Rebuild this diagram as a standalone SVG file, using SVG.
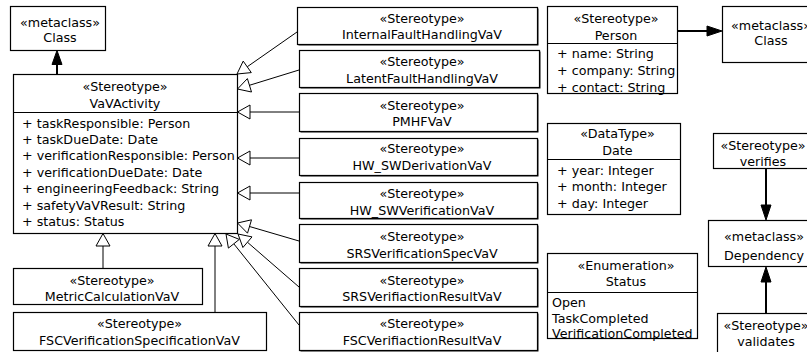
<svg xmlns="http://www.w3.org/2000/svg" width="807" height="352" viewBox="0 0 807 352">
  <style>
    text { font-family: "DejaVu Sans", "Noto Sans", sans-serif; font-size: 12.7px; fill: #000; }
    .c { text-anchor: middle; }
    .box { fill: #fff; stroke: #000; stroke-width: 1.2; }
    .sh { fill: #222; }
    .sep { stroke: #000; stroke-width: 1.2; }
    .gen { stroke: #000; stroke-width: 1; fill: none; }
    .head { fill: #fff; stroke: #000; stroke-width: 1; }
    .ext { stroke: #000; stroke-width: 2; fill: none; }
    .fhead { fill: #000; stroke: #000; stroke-width: 1; }
  </style>

  <!-- connectors -->
  <g id="connectors">
    <!-- generalizations into VaVActivity -->
    <line class="gen" x1="297" y1="32" x2="247.2" y2="66.8"/>
    <polygon class="head" points="237,74 251.3,72.6 243.2,61.1"/>
    <line class="gen" x1="299" y1="70" x2="249.4" y2="85.3"/>
    <polygon class="head" points="237.5,89 251.5,92 247.4,78.6"/>
    <line class="gen" x1="299" y1="112" x2="250" y2="112"/>
    <polygon class="head" points="237.5,112 250,105 250,119"/>
    <line class="gen" x1="299" y1="158" x2="250" y2="158"/>
    <polygon class="head" points="237.5,158 250,151 250,165"/>
    <line class="gen" x1="299" y1="193" x2="250" y2="193"/>
    <polygon class="head" points="237.5,193 250,186 250,200"/>
    <line class="gen" x1="299" y1="241" x2="249.5" y2="226.5"/>
    <polygon class="head" points="237.5,223 247.5,233.2 251.5,219.8"/>
    <line class="gen" x1="299" y1="287" x2="247.4" y2="242.2"/>
    <polygon class="head" points="238,234 242.9,247.5 252,236.9"/>
    <line class="gen" x1="299" y1="325" x2="233.8" y2="243.8"/>
    <polygon class="head" points="226,234 228.4,248.1 239.3,239.4"/>
    <line class="gen" x1="215" y1="312" x2="215" y2="246"/>
    <polygon class="head" points="215,233.5 208,246 222,246"/>
    <line class="gen" x1="103" y1="268" x2="103" y2="246"/>
    <polygon class="head" points="103,233.5 96,246 110,246"/>

    <!-- extensions (filled heads) -->
    <line class="ext" x1="57" y1="74" x2="57" y2="63"/>
    <polygon class="fhead" points="57,50.5 52,64.5 62,64.5"/>
    <line class="ext" x1="677" y1="31" x2="708" y2="31"/>
    <polygon class="fhead" points="722,31 707,26 707,36"/>
    <line class="ext" x1="766" y1="168" x2="766" y2="206"/>
    <polygon class="fhead" points="766,220 761,205 771,205"/>
    <line class="ext" x1="766" y1="313" x2="766" y2="281"/>
    <polygon class="fhead" points="766,267 761,282 771,282"/>
  </g>

  <!-- metaclass Class (left) -->
  <g id="metaclass-class-left">
    <rect class="box" x="10.5" y="6.5" width="95" height="44"/>
    <text class="c" x="60" y="26.5">«metaclass»</text>
    <text class="c" x="60" y="42">Class</text>
  </g>

  <!-- VaVActivity -->
  <g id="vav-activity">
    <rect class="box" x="13.5" y="74.5" width="224" height="159"/>
    <line class="sep" x1="13.5" y1="112.5" x2="237.5" y2="112.5"/>
    <text class="c" x="125" y="91">«Stereotype»</text>
    <text class="c" x="125" y="107.5">VaVActivity</text>
    <text x="22" y="127.5">+ taskResponsible: Person</text>
    <text x="22" y="143.9">+ taskDueDate: Date</text>
    <text x="22" y="160.3">+ verificationResponsible: Person</text>
    <text x="22" y="176.7">+ verificationDueDate: Date</text>
    <text x="22" y="193.1">+ engineeringFeedback: String</text>
    <text x="22" y="209.5">+ safetyVaVResult: String</text>
    <text x="22" y="225.9">+ status: Status</text>
  </g>

  <!-- MetricCalculationVaV -->
  <g id="metric-calculation">
    <rect class="box" x="13.5" y="268.5" width="189" height="36"/>
    <text class="c" x="112" y="284.5">«Stereotype»</text>
    <text class="c" x="112" y="301">MetricCalculationVaV</text>
  </g>

  <!-- FSCVerificationSpecificationVaV -->
  <g id="fsc-verification-spec">
    <rect class="box" x="13.5" y="312.5" width="253" height="38"/>
    <text class="c" x="139.5" y="328">«Stereotype»</text>
    <text class="c" x="139.5" y="344.5">FSCVerificationSpecificationVaV</text>
  </g>

  <!-- specialized stereotypes column -->
  <g id="internal-fault">
    <rect class="sh" x="298.5" y="8.5" width="240" height="37"/>
    <rect class="box" x="297.5" y="7.5" width="240" height="37"/>
    <text class="c" x="422" y="22.5">«Stereotype»</text>
    <text class="c" x="422" y="39">InternalFaultHandlingVaV</text>
  </g>
  <g id="latent-fault">
    <rect class="sh" x="300.5" y="51.5" width="240" height="37"/>
    <rect class="box" x="299.5" y="50.5" width="240" height="37"/>
    <text class="c" x="422" y="66">«Stereotype»</text>
    <text class="c" x="422" y="83">LatentFaultHandlingVaV</text>
  </g>
  <g id="pmhf">
    <rect class="sh" x="300.5" y="94.5" width="238" height="38"/>
    <rect class="box" x="299.5" y="93.5" width="238" height="38"/>
    <text class="c" x="422" y="110">«Stereotype»</text>
    <text class="c" x="422" y="126">PMHFVaV</text>
  </g>
  <g id="hw-sw-derivation">
    <rect class="sh" x="300.5" y="139.5" width="238" height="37"/>
    <rect class="box" x="299.5" y="138.5" width="238" height="37"/>
    <text class="c" x="422" y="153">«Stereotype»</text>
    <text class="c" x="422" y="170">HW_SWDerivationVaV</text>
  </g>
  <g id="hw-sw-verification">
    <rect class="sh" x="300.5" y="183.5" width="238" height="36"/>
    <rect class="box" x="299.5" y="182.5" width="238" height="36"/>
    <text class="c" x="422" y="198">«Stereotype»</text>
    <text class="c" x="422" y="215">HW_SWVerificationVaV</text>
  </g>
  <g id="srs-verification-spec">
    <rect class="sh" x="300.5" y="225.5" width="238" height="38"/>
    <rect class="box" x="299.5" y="224.5" width="238" height="38"/>
    <text class="c" x="422" y="241">«Stereotype»</text>
    <text class="c" x="422" y="257.5">SRSVerificationSpecVaV</text>
  </g>
  <g id="srs-verification-result">
    <rect class="sh" x="300.5" y="269.5" width="238" height="38"/>
    <rect class="box" x="299.5" y="268.5" width="238" height="38"/>
    <text class="c" x="422" y="284.5">«Stereotype»</text>
    <text class="c" x="422" y="301">SRSVerifiactionResultVaV</text>
  </g>
  <g id="fsc-verification-result">
    <rect class="sh" x="300.5" y="313.5" width="238" height="38"/>
    <rect class="box" x="299.5" y="312.5" width="238" height="38"/>
    <text class="c" x="422" y="328">«Stereotype»</text>
    <text class="c" x="422" y="344.5">FSCVerifiactionResultVaV</text>
  </g>

  <!-- Person -->
  <g id="person">
    <rect class="box" x="547.5" y="6.5" width="130" height="87"/>
    <line class="sep" x1="547.5" y1="43.5" x2="677.5" y2="43.5"/>
    <text class="c" x="616" y="23">«Stereotype»</text>
    <text class="c" x="616" y="40">Person</text>
    <text x="557" y="58">+ name: String</text>
    <text x="557" y="75">+ company: String</text>
    <text x="557" y="91.5">+ contact: String</text>
  </g>

  <!-- Date -->
  <g id="date">
    <rect class="box" x="547.5" y="123.5" width="133" height="91"/>
    <line class="sep" x1="547.5" y1="159.5" x2="680.5" y2="159.5"/>
    <text class="c" x="617.5" y="137.5">«DataType»</text>
    <text class="c" x="617.5" y="155">Date</text>
    <text x="557" y="174.5">+ year: Integer</text>
    <text x="557" y="191">+ month: Integer</text>
    <text x="557" y="207.5">+ day: Integer</text>
  </g>

  <!-- Status -->
  <g id="status">
    <rect class="box" x="547.5" y="253.5" width="150" height="85"/>
    <line class="sep" x1="547.5" y1="292.5" x2="697.5" y2="292.5"/>
    <text class="c" x="626" y="269.5">«Enumeration»</text>
    <text class="c" x="626" y="286">Status</text>
    <text x="552" y="306.5">Open</text>
    <text x="552" y="322.5">TaskCompleted</text>
    <text x="552" y="338">VerificationCompleted</text>
  </g>

  <!-- metaclass Class (right) -->
  <g id="metaclass-class-right">
    <rect class="box" x="722.5" y="6.5" width="98" height="56"/>
    <text class="c" x="771" y="29.5">«metaclass»</text>
    <text class="c" x="771" y="45">Class</text>
  </g>

  <!-- verifies -->
  <g id="verifies">
    <rect class="box" x="713.5" y="133.5" width="106" height="35"/>
    <text class="c" x="763" y="149.5">«Stereotype»</text>
    <text class="c" x="763" y="166">verifies</text>
  </g>

  <!-- metaclass Dependency -->
  <g id="metaclass-dependency">
    <rect class="box" x="708.5" y="220.5" width="114" height="46"/>
    <text class="c" x="764" y="241">«metaclass»</text>
    <text class="c" x="764" y="259.5">Dependency</text>
  </g>

  <!-- validates -->
  <g id="validates">
    <rect class="box" x="717.5" y="313.5" width="104" height="46"/>
    <text class="c" x="766" y="329.5">«Stereotype»</text>
    <text class="c" x="766" y="346">validates</text>
  </g>
</svg>
